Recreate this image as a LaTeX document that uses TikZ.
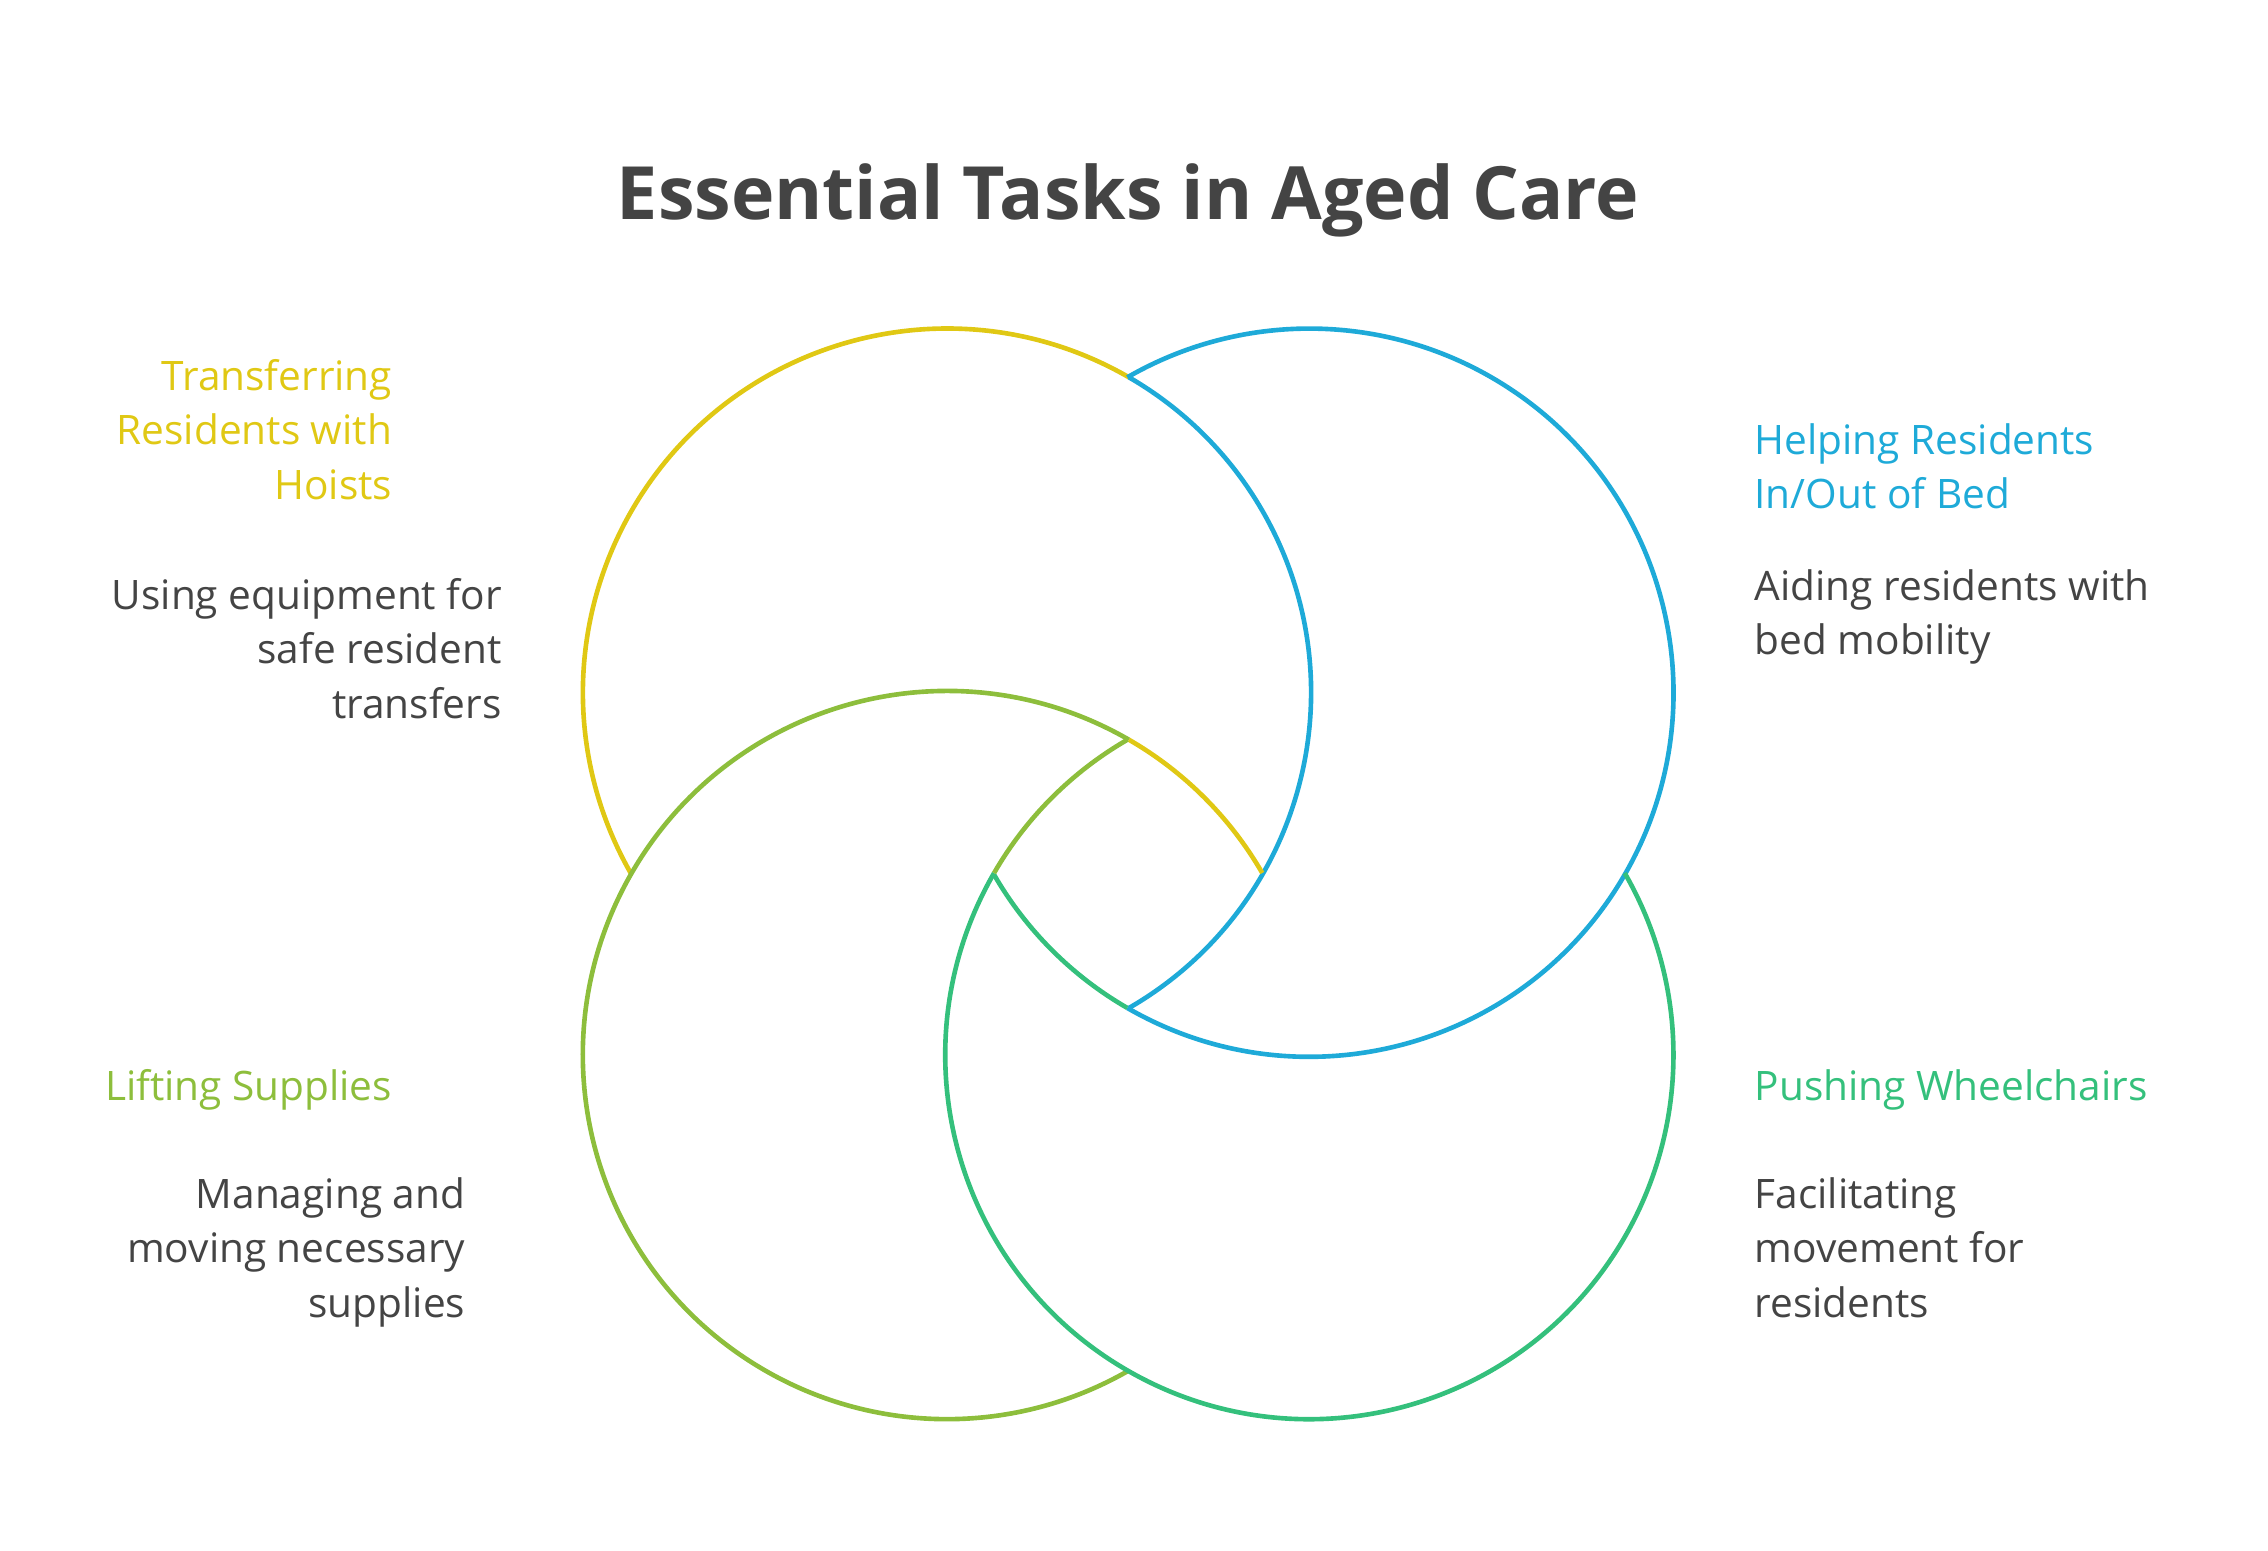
\documentclass[tikz,border=0pt]{standalone}
\usepackage{fontspec}
\setmainfont{Open Sans}
\definecolor{cY}{HTML}{E0C814}
\definecolor{cB}{HTML}{1EAAD8}
\definecolor{cL}{HTML}{8DBE3C}
\definecolor{cG}{HTML}{34C07C}
\definecolor{txt}{HTML}{444444}
\begin{document}
\begin{tikzpicture}[x=0.01cm,y=0.01cm,
  ring/.style={line width=0.9pt},
  lbl/.style={inner sep=0pt,font=\fontsize{7.9pt}{10.6pt}\selectfont},
  dsc/.style={lbl,text=txt}]
\useasboundingbox (0,0) rectangle (1552,1061);
\coordinate (Y) at (648,587);
\coordinate (B) at (896,587);
\coordinate (L) at (648,339);
\coordinate (G) at (896,339);
\def\R{2.49cm}
% circle Y
\draw[ring,cY] (Y) ++(60:\R) arc[start angle=60,end angle=210,radius=\R];
\draw[ring,cB] (Y) ++(-60:\R) arc[start angle=-60,end angle=60,radius=\R];
% circle B
\draw[ring,cB] (B) ++(240:\R) arc[start angle=240,end angle=480,radius=\R];
\draw[ring,cG] (B) ++(210:\R) arc[start angle=210,end angle=240,radius=\R];
% circle L
\draw[ring,cL] (L) ++(60:\R) arc[start angle=60,end angle=300,radius=\R];
\draw[ring,cY] (L) ++(30:\R) arc[start angle=30,end angle=60,radius=\R];
% circle G
\draw[ring,cG] (G) ++(150:\R) arc[start angle=150,end angle=390,radius=\R];
\draw[ring,cL] (G) ++(120:\R) arc[start angle=120,end angle=150,radius=\R];
% title
\node[text=txt,font=\fontsize{14.3pt}{17pt}\selectfont\bfseries] (title) at (772,924) {Essential Tasks in Aged Care};
% texts
\node[lbl,text=cY,anchor=north east,align=right] (t1) at (269,816) {Transferring\\Residents with\\Hoists};
\node[dsc,anchor=north east,align=right] (d1) at (344,666) {Using equipment for\\safe resident\\transfers};
\node[lbl,text=cB,anchor=north west,align=left] (t2) at (1200,772) {Helping Residents\\In/Out of Bed};
\node[dsc,anchor=north west,align=left] (d2) at (1200,672) {Aiding residents with\\bed mobility};
\node[lbl,text=cL,anchor=north east,align=right] (t3) at (269,330) {Lifting Supplies};
\node[dsc,anchor=north east,align=right] (d3) at (319,256) {Managing and\\moving necessary\\supplies};
\node[lbl,text=cG,anchor=north west,align=left] (t4) at (1200,330) {Pushing Wheelchairs};
\node[dsc,anchor=north west,align=left] (d4) at (1200,256) {Facilitating\\movement for\\residents};
\end{tikzpicture}
\end{document}
